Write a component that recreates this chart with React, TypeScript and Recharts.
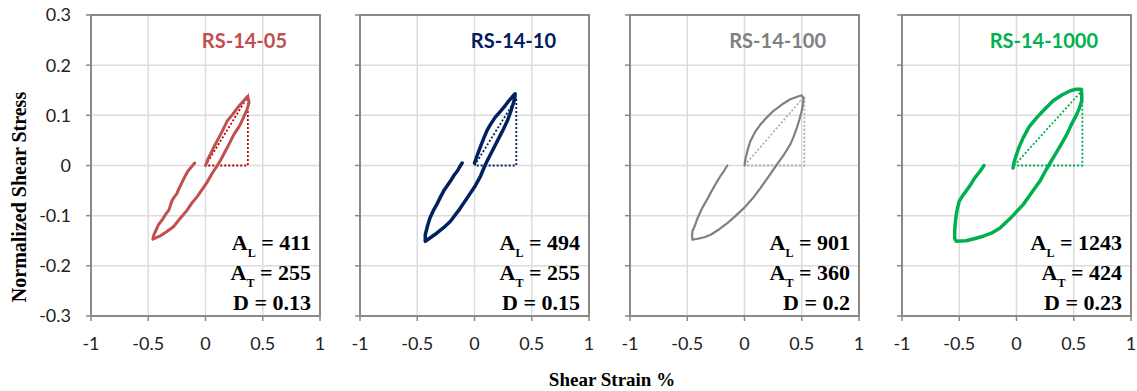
import React from "react";
import { LineChart, Line, XAxis, YAxis, CartesianGrid, ReferenceArea } from "recharts";

// strain %, normalized stress pairs
const loop05: [number, number][] = [
  [0, 0], [0.02, 0.012], [0.044, 0.023], [0.08, 0.04], [0.118, 0.056], [0.15, 0.07], [0.19, 0.089],
  [0.23, 0.1], [0.28, 0.115], [0.33, 0.128], [0.368, 0.138], [0.375, 0.132], [0.38, 0.125], [0.36, 0.11],
  [0.34, 0.1], [0.3, 0.08], [0.25, 0.0625], [0.2, 0.04], [0.16, 0.023], [0.13, 0.01], [0.103, 0],
  [0.06, -0.015], [0.015, -0.033], [-0.03, -0.048], [-0.074, -0.0625], [-0.12, -0.075], [-0.16, -0.089],
  [-0.22, -0.105], [-0.28, -0.122], [-0.34, -0.132], [-0.4, -0.141], [-0.46, -0.147], [-0.45, -0.138],
  [-0.43, -0.128], [-0.41, -0.118], [-0.38, -0.109], [-0.35, -0.098], [-0.32, -0.089], [-0.3, -0.075],
  [-0.29, -0.069], [-0.27, -0.062], [-0.25, -0.056], [-0.23, -0.045], [-0.21, -0.036], [-0.18, -0.022],
  [-0.15, -0.01], [-0.12, -0.002], [-0.094, 0.005],
];
const loop10: [number, number][] = [
  [0, 0.005], [0.02, 0.018], [0.038, 0.029], [0.06, 0.042], [0.082, 0.055], [0.11, 0.07], [0.14, 0.082],
  [0.18, 0.096], [0.23, 0.109], [0.27, 0.12], [0.3, 0.129], [0.33, 0.137], [0.355, 0.143], [0.352, 0.135],
  [0.346, 0.129], [0.32, 0.11], [0.287, 0.089], [0.245, 0.069], [0.2, 0.049], [0.155, 0.029], [0.11, 0.009],
  [0.08, -0.006], [0.053, -0.021], [0, -0.043], [-0.065, -0.065], [-0.14, -0.09], [-0.21, -0.111],
  [-0.27, -0.124], [-0.33, -0.135], [-0.38, -0.143], [-0.43, -0.151], [-0.43, -0.145], [-0.43, -0.138],
  [-0.41, -0.12], [-0.39, -0.105], [-0.36, -0.09], [-0.33, -0.078], [-0.3, -0.064], [-0.27, -0.051],
  [-0.24, -0.041], [-0.21, -0.031], [-0.18, -0.02], [-0.15, -0.011], [-0.13, -0.003], [-0.108, 0.005],
];
const loop100: [number, number][] = [
  [0, 0], [0.01, 0.015], [0.03, 0.033], [0.052, 0.049], [0.09, 0.066], [0.14, 0.082], [0.2, 0.097],
  [0.254, 0.109], [0.33, 0.122], [0.4, 0.132], [0.46, 0.137], [0.5, 0.14], [0.515, 0.135], [0.51, 0.122],
  [0.5, 0.109], [0.48, 0.092], [0.457, 0.075], [0.43, 0.058], [0.4, 0.042], [0.34, 0.02], [0.283, 0.002],
  [0.21, -0.022], [0.139, -0.045], [0.07, -0.066], [-0.006, -0.085], [-0.08, -0.101], [-0.15, -0.115],
  [-0.22, -0.127], [-0.295, -0.138], [-0.35, -0.143], [-0.41, -0.146], [-0.455, -0.148], [-0.458, -0.14],
  [-0.455, -0.131], [-0.43, -0.118], [-0.41, -0.105], [-0.37, -0.085], [-0.32, -0.065], [-0.28, -0.048],
  [-0.237, -0.031], [-0.21, -0.021], [-0.18, -0.011], [-0.15, 0],
];
const loop1000: [number, number][] = [
  [-0.03, -0.005], [-0.02, 0.008], [0, 0.022], [0.025, 0.038], [0.058, 0.055], [0.11, 0.077], [0.175, 0.095],
  [0.25, 0.113], [0.32, 0.129], [0.4, 0.141], [0.47, 0.149], [0.52, 0.152], [0.565, 0.152], [0.57, 0.14],
  [0.57, 0.129], [0.55, 0.115], [0.526, 0.102], [0.48, 0.082], [0.44, 0.062], [0.38, 0.038], [0.32, 0.015],
  [0.26, -0.008], [0.205, -0.031], [0.13, -0.055], [0.058, -0.078], [-0.04, -0.102], [-0.146, -0.125],
  [-0.22, -0.135], [-0.29, -0.141], [-0.37, -0.146], [-0.44, -0.15], [-0.526, -0.151], [-0.54, -0.145],
  [-0.54, -0.131], [-0.535, -0.115], [-0.526, -0.098], [-0.515, -0.085], [-0.5, -0.071], [-0.47, -0.06],
  [-0.44, -0.051], [-0.4, -0.038], [-0.366, -0.025], [-0.32, -0.012], [-0.284, 0],
];

// dotted secant triangles
const tri05: [number, number][] = [[0, 0], [0.37, 0.138], [0.37, 0], [0, 0]];
const tri10: [number, number][] = [[0, 0], [0.365, 0.134], [0.365, 0], [0, 0]];
const tri100: [number, number][] = [[0, 0], [0.523, 0.138], [0.523, 0], [0, 0]];
const tri1000: [number, number][] = [[-0.02, 0], [0.575, 0.15], [0.575, 0], [-0.02, 0]];

const names = ["RS-14-05", "RS-14-10", "RS-14-100", "RS-14-1000"];
const colors = ["#C0504D", "#002060", "#808080", "#00B050"];
const triColors = ["#C00000", "#002060", "#B0B0B0", "#00B050"];
const lineWidths = [3, 3.5, 2.2, 3.5];
const aL = [411, 494, 901, 1243];
const aT = [255, 255, 360, 424];
const dVals = ["0.13", "0.15", "0.2", "0.23"];
const loops = [loop05, loop10, loop100, loop1000];
const tris = [tri05, tri10, tri100, tri1000];

const xTicks = [-1, -0.5, 0, 0.5, 1];
const yTicks = [-0.3, -0.2, -0.1, 0, 0.1, 0.2, 0.3];

const plotLefts = [91, 360, 630, 902];
const PW = 229;
const YW = 60;
const H = 391;

const toPts = (arr: [number, number][]) => arr.map(([x, y]) => ({ x, y }));
const axisGrey = "#898989";
const tickStyle = { fill: "#222", fontSize: 18, fontFamily: "Lato" };

function Panel({ i }: { i: number }) {
  return (
    <div style={{ position: "absolute", left: plotLefts[i] - YW, top: 0 }}>
      <LineChart width={YW + PW + 10} height={H} margin={{ top: 15, right: 10, left: 0, bottom: 45 }}>
        <CartesianGrid stroke="#DCDCDC" strokeWidth={1.5} />
        <XAxis
          type="number"
          dataKey="x"
          domain={[-1, 1]}
          ticks={xTicks}
          interval={0}
          height={30}
          tickSize={5}
          tickMargin={16}
          tick={tickStyle}
          stroke={axisGrey}
          axisLine={{ stroke: axisGrey, strokeWidth: 2 }}
          tickLine={{ stroke: axisGrey, strokeWidth: 1.5 }}
        />
        <YAxis
          type="number"
          domain={[-0.3, 0.3]}
          ticks={yTicks}
          interval={0}
          width={YW}
          tickSize={5}
          tickMargin={15}
          tick={tickStyle}
          tickFormatter={(v: number) => (i === 0 ? String(v) : "")}
          axisLine={{ stroke: axisGrey, strokeWidth: 2 }}
          tickLine={{ stroke: axisGrey, strokeWidth: 1.5 }}
        />
        <ReferenceArea x1={-1} x2={1} y1={-0.3} y2={0.3} fill="none" stroke={axisGrey} strokeWidth={2} />
        <Line
          data={toPts(tris[i])}
          dataKey="y"
          type="linear"
          stroke={triColors[i]}
          strokeWidth={1.8}
          strokeDasharray="2 2"
          dot={false}
          isAnimationActive={false}
        />
        <Line
          data={toPts(loops[i])}
          dataKey="y"
          type="linear"
          stroke={colors[i]}
          strokeWidth={lineWidths[i]}
          strokeLinejoin="round"
          strokeLinecap="round"
          dot={false}
          isAnimationActive={false}
        />
      </LineChart>
    </div>
  );
}

export default function App() {
  const serif = "'Liberation Serif', 'Times New Roman', serif";
  return (
    <div style={{ position: "absolute", left: 0, top: 0, width: 1137, height: H, background: "#fff" }}>
      {names.map((_, i) => (
        <Panel key={i} i={i} />
      ))}
      <svg width={1137} height={H} style={{ position: "absolute", left: 0, top: 0, pointerEvents: "none" }}>
        <text
          x={26}
          y={197}
          transform="rotate(-90, 26, 197)"
          textAnchor="middle"
          fontFamily={serif}
          fontWeight="bold"
          fontSize={20}
          fill="#000"
        >
          Normalized Shear Stress
        </text>
        <text x={612} y={386} textAnchor="middle" fontFamily={serif} fontWeight="bold" fontSize={19} fill="#000">
          Shear Strain %
        </text>
        {names.map((n, i) => {
          const right = plotLefts[i] + PW;
          return (
            <g key={n}>
              <text x={right - 33} y={48} textAnchor="end" fontFamily="Lato" fontWeight="bold" fontSize={20} fill={colors[i]}>
                {n}
              </text>
              <text x={right - 9} y={250} textAnchor="end" fontFamily={serif} fontWeight="bold" fontSize={22} fill="#000">
                A<tspan dy={7} fontSize={12}>L</tspan>
                <tspan dy={-7}>{` = ${aL[i]}`}</tspan>
              </text>
              <text x={right - 9} y={280} textAnchor="end" fontFamily={serif} fontWeight="bold" fontSize={22} fill="#000">
                A<tspan dy={7} fontSize={12}>T</tspan>
                <tspan dy={-7}>{` = ${aT[i]}`}</tspan>
              </text>
              <text x={right - 9} y={310} textAnchor="end" fontFamily={serif} fontWeight="bold" fontSize={22} fill="#000">
                {`D = ${dVals[i]}`}
              </text>
            </g>
          );
        })}
      </svg>
    </div>
  );
}
